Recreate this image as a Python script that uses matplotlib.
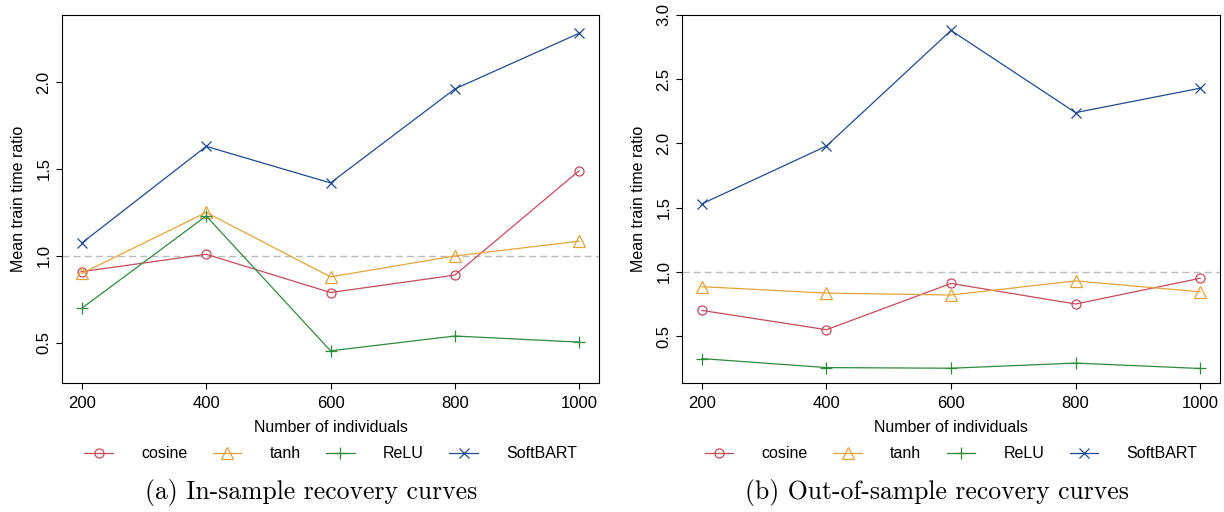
import numpy as np
import matplotlib
matplotlib.use("Agg")
import matplotlib.pyplot as plt
from matplotlib.ticker import FormatStrFormatter

plt.rcParams['font.family'] = ['Liberation Sans', 'DejaVu Sans']

# data
n_individuals = [200, 400, 600, 800, 1000]
series_names = ['cosine', 'tanh', 'ReLU', 'SoftBART']

# (a) in-sample
in_cosine = [0.91, 1.01, 0.79, 0.89, 1.49]
in_tanh = [0.90, 1.25, 0.88, 1.00, 1.085]
in_relu = [0.70, 1.23, 0.455, 0.54, 0.505]
in_softbart = [1.075, 1.63, 1.42, 1.96, 2.28]

# (b) out-of-sample
out_cosine = [0.70, 0.55, 0.91, 0.75, 0.95]
out_tanh = [0.885, 0.835, 0.82, 0.93, 0.845]
out_relu = [0.325, 0.255, 0.25, 0.29, 0.248]
out_softbart = [1.53, 1.98, 2.88, 2.24, 2.43]

captions = ['(a) In-sample recovery curves', '(b) Out-of-sample recovery curves']

colors = ['#C44A5E', '#E3A33A', '#2E8B3C', '#1F4A8E']
markers = ['o', '^', '+', 'x']
msizes = [6.5, 8, 8, 7]

W, H = 1224, 512
fig = plt.figure(figsize=(W / 100, H / 100), dpi=100)
ax1 = fig.add_axes([62/W, 1-383/H, 537/W, 368/H])
ax2 = fig.add_axes([682/W, 1-383/H, 538/W, 368/H])

panels = [
    (ax1, [in_cosine, in_tanh, in_relu, in_softbart], (0.27, 2.385), [0.5, 1.0, 1.5, 2.0], 311, captions[0]),
    (ax2, [out_cosine, out_tanh, out_relu, out_softbart], (0.135, 3.0), [0.5, 1.0, 1.5, 2.0, 2.5, 3.0], 937, captions[1]),
]

for ax, data, ylim, yticks, cap_x, cap in panels:
    # reference line at ratio 1
    ax.axhline(1.0, color='#BBBBBB', linestyle=(0, (5, 3)), linewidth=1.0, zorder=1)
    for vals, name, c, m, ms in zip(data, series_names, colors, markers, msizes):
        ax.plot(n_individuals, vals, color=c, marker=m, markersize=ms,
                markerfacecolor='none', markeredgewidth=0.9, linewidth=0.9, label=name, zorder=3)
    ax.set_xlim(168, 1032)
    ax.set_ylim(*ylim)
    ax.set_xticks(n_individuals)
    ax.set_yticks(yticks)
    ax.yaxis.set_major_formatter(FormatStrFormatter('%.1f'))
    ax.tick_params(axis='both', direction='out', length=4.5, width=0.8, labelsize=12, colors='black')
    ax.tick_params(axis='y', labelrotation=90, pad=3)
    for lbl in ax.get_yticklabels():
        lbl.set_va('center')
    ax.tick_params(axis='x', pad=4.5)
    for s in ax.spines.values():
        s.set_linewidth(0.8)
    ax.set_xlabel('Number of individuals', fontsize=11.5, va='center')
    ax.xaxis.set_label_coords(0.5, -44/368)
    ax.set_ylabel('Mean train time ratio', fontsize=11.5, va='center')
    ax.yaxis.set_label_coords(-43/537, 0.5)
    ax.legend(loc='center', bbox_to_anchor=(0.5, -71/368), ncol=4, frameon=False,
              fontsize=11.5, handlelength=1.8, handletextpad=1.75, columnspacing=1.6)
    fig.text(cap_x / W, 1 - 493 / H, cap, ha='center', va='center', fontsize=18.5, family='cmr10')

fig.savefig('out.png', dpi=100)
